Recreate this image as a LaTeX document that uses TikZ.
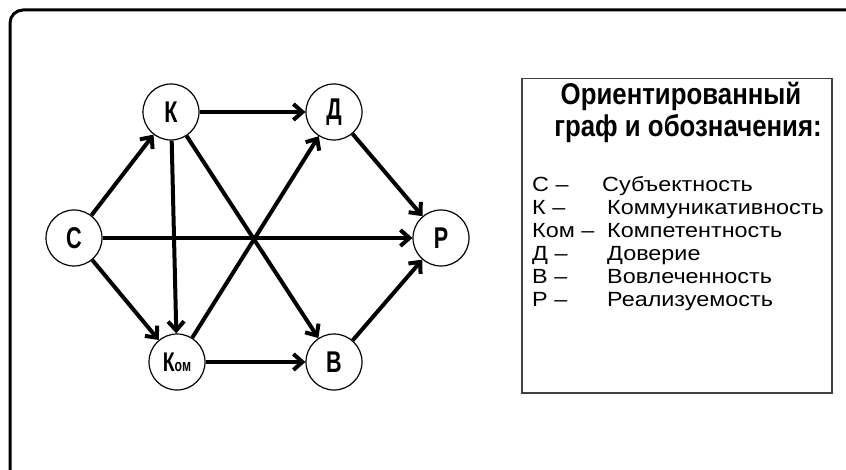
\documentclass[tikz,border=0pt]{standalone}
\usepackage{fontspec}
\setmainfont{Liberation Sans}
\newfontfamily\vertexfont[FakeStretch=0.72]{Liberation Sans}
\newfontfamily\legendfont[FakeStretch=1.14]{Liberation Sans}
\newfontfamily\titlefont[FakeStretch=0.86]{Liberation Sans}
\usetikzlibrary{arrows.meta}

\begin{document}
\begin{tikzpicture}
            [
                x=1pt, y=-1pt,
                vertex/.style={circle, draw, line width=1.2pt, minimum size=56pt,
                    inner sep=0pt, font=\vertexfont\bfseries\fontsize{30}{30}\selectfont},
                link/.style={line width=4pt, -{Straight Barb[length=9pt,width=16pt]}},
                legendbox/.style={draw=black!75, line width=1.5pt, anchor=north west,
                    minimum width=310pt, minimum height=314pt, inner sep=0pt},
                title/.style={anchor=base, inner sep=0pt,
                    font=\titlefont\bfseries\fontsize{30}{30}\selectfont},
                entry/.style={anchor=base west, inner sep=0pt,
                    font=\legendfont\fontsize{20.5}{20.5}\selectfont}
            ]
            \useasboundingbox (0,0) rectangle (846,470);
            \clip (0,0) rectangle (846,470);
            % frame
            \draw[line width=3pt, rounded corners=13pt] (10,10) rectangle (880,500);
            % graph
            \node[vertex] (C) at (74,238) {С};
            \node[vertex] (K) at (171,112) {К};
            \node[vertex] (D) at (334,112) {Д};
            \node[vertex] (R) at (441,238) {Р};
            \node[vertex] (Kom) at (177,362) {{\fontsize{27}{27}\selectfont К}{\fontsize{17}{17}\selectfont ом}};
            \node[vertex] (V) at (334,362) {В};
            \foreach \from/\to in {C/K, C/Kom, C/R, K/D, K/Kom, K/V, Kom/D, Kom/V, D/R, V/R}
                \draw[link] (\from) -- (\to);
            % legend
            \node[legendbox] (legend) at (521,78) {};
            \node[title] (title1) at (681,105) {Ориентированный};
            \node[title] (title2) at (688,136.5) {граф и обозначения:};
            \foreach \row/\sym/\dx/\desc in {0/С –/602/Субъектность,
                    1/К –/607/Коммуникативность,
                    2/Ком –/607/Компетентность,
                    3/Д –/607/Доверие,
                    4/В –/607/Вовлеченность,
                    5/Р –/607/Реализуемость} {
                \node[entry] (sym\row) at (532,192+23*\row) {\sym};
                \node[entry] (desc\row) at (\dx,192+23*\row) {\desc};
            }
\end{tikzpicture}
\end{document}
